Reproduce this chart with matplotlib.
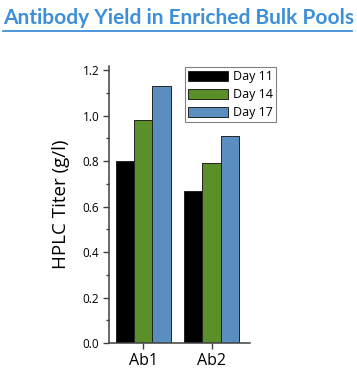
import matplotlib
matplotlib.use("Agg")
import matplotlib.pyplot as plt
import numpy as np

categories = ["Ab1", "Ab2"]
series_names = ["Day 11", "Day 14", "Day 17"]
day11 = [0.80, 0.67]
day14 = [0.98, 0.79]
day17 = [1.13, 0.91]
colors = ["#000000", "#5a8f29", "#5b8ec0"]
yticks = [0.0, 0.2, 0.4, 0.6, 0.8, 1.0, 1.2]

plt.rcParams['font.family'] = ['Open Sans', 'DejaVu Sans']

fig = plt.figure(figsize=(3.57, 3.69), dpi=100)
ax = fig.add_axes([109/357, 1-343/369, (250-109)/357, (343-65.7)/369])

x = np.arange(len(categories))
w = 0.27
for i, (vals, c, name) in enumerate(zip([day11, day14, day17], colors, series_names)):
    ax.bar(x + (i-1)*w, vals, w, color=c, edgecolor="#222222", linewidth=0.7, label=name)

ax.set_xlim(-0.5, 1.56)
ax.set_ylim(0, 1.22)
ax.set_yticks(yticks)
ax.set_yticklabels([f"{t:.1f}" for t in yticks], fontsize=8.5)
ax.set_yticks(np.arange(0.1, 1.2, 0.2), minor=True)
ax.set_xticks(x)
ax.set_xticklabels(categories, fontsize=11.5)
for s in ["top", "right"]:
    ax.spines[s].set_visible(False)
for s in ["left", "bottom"]:
    ax.spines[s].set_color("#404040")
    ax.spines[s].set_linewidth(1.1)
ax.tick_params(axis="both", which="major", direction="out", length=4, width=1, color="#404040", pad=3)
ax.tick_params(axis="y", which="minor", direction="out", length=2.5, width=1, color="#404040")
ax.set_ylabel("HPLC Titer (g/l)", fontsize=13.5, labelpad=9)

leg = ax.legend(loc="upper left", bbox_to_anchor=(185/357, 1-67/369), bbox_transform=fig.transFigure,
                fontsize=9, frameon=True, fancybox=False, edgecolor="#808080", framealpha=1,
                handlelength=3.2, handleheight=0.9, labelspacing=0.4, borderpad=0.25,
                handletextpad=0.4, borderaxespad=0)
leg.get_frame().set_linewidth(0.8)

t = fig.text(0.5, 1-18/369, "Antibody Yield in Enriched Bulk Pools", ha="center", va="center",
             fontsize=15, fontweight="bold", color="#3d8fd9", family=["Lato", "DejaVu Sans"])
fig.add_artist(plt.Line2D([3/357, 352/357], [1-31/369, 1-31/369], transform=fig.transFigure,
                          color="#3d8fd9", linewidth=1.3))

fig.savefig("out.png", dpi=100)
